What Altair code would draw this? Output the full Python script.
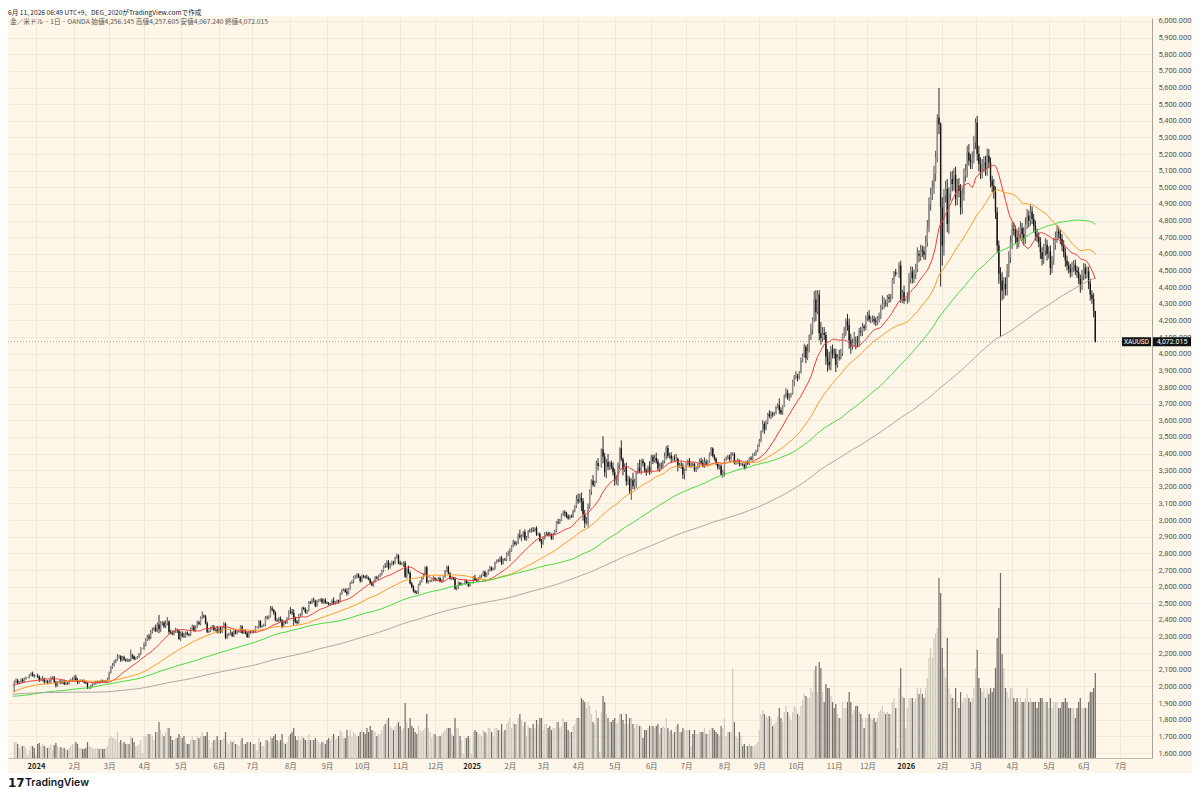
import pandas as pd
import altair as alt

# ---------------- data (XAUUSD daily) ----------------
# pre-history closes (only used to warm up the moving averages)
p_2303 = [1836,1836,1856,1847,1813,1815,1831,1868,1913,1903,1918,1919,1989,1979,1941,1970,1994,1978,1956,1973,1964,1980,1969]
p_2304 = [1984,2020,2021,2008,2007,1990,2003,2015,2040,2004,1995,2005,1995,2004,1983,1989,1998,1989,1989,1990]
p_2305 = [1983,2017,2039,2050,2017,2022,2034,2030,2015,2011,2017,1989,1982,1958,1978,1971,1975,1957,1941,1946,1943,1959,1963]
p_2306 = [1978,1948,1962,1963,1940,1965,1961,1957,1943,1943,1958,1957,1951,1936,1932,1913,1921,1923,1914,1907,1908,1919]
p_2307 = [1921,1925,1915,1911,1925,1925,1932,1957,1961,1955,1955,1979,1976,1969,1962,1954,1965,1972,1946,1959,1965]
p_2308 = [1944,1934,1934,1943,1936,1925,1915,1912,1914,1907,1902,1892,1889,1889,1895,1897,1916,1917,1914,1920,1937,1942,1940]
p_2309 = [1940,1938,1926,1917,1919,1919,1922,1913,1908,1910,1924,1934,1931,1930,1920,1925,1916,1900,1875,1864,1849]
p_2310 = [1828,1822,1821,1820,1833,1861,1861,1874,1868,1932,1920,1923,1947,1974,1981,1973,1970,1980,1985,2006,1996,1983]
p_2311 = [1982,1986,1992,1978,1969,1950,1958,1940,1946,1963,1959,1981,1980,1978,1998,1990,1992,2002,2013,2041,2044,2036]
p_2312a = [2072,2030,2019,2025,2028,2005,1982,1979]

# visible candles: close, upper wick, lower wick, volume (k ticks)
c_2312 = [2027,2036,2019,2027,2040,2031,2045,2053,2053,2067,2077,2065,2063]
u_2312 = [8,12,10,6,8,10,8,6,2,6,8,12,8]
l_2312 = [12,6,8,6,5,8,6,5,2,5,6,6,10]
v_2312 = [16,16,14,10,12,12,12,10,3,8,12,12,10]

c_2401 = [2063,2059,2041,2043,2045,2028,2030,2024,2029,2049,2055,2028,2006,2023,2029,2021,2029,2014,2020,2018,2032,2037,2039]
u_2401 = [2,14,8,10,18,8,10,10,12,12,6,8,6,8,8,10,8,12,8,6,8,10,16]
l_2401 = [2,8,14,8,12,12,8,10,8,8,8,10,12,6,6,8,6,6,6,8,6,6,8]
v_2401 = [3,14,15,12,14,12,11,10,11,14,8,13,15,12,10,11,10,10,9,8,10,12,14]

c_2402 = [2054,2039,2025,2035,2035,2034,2024,2020,1992,1992,2004,2013,2017,2024,2025,2024,2035,2031,2029,2034,2044]
u_2402 = [12,16,10,6,8,6,8,8,6,6,8,6,8,8,8,8,6,6,6,6,8]
l_2402 = [6,6,12,8,6,8,6,6,8,8,6,6,6,6,6,6,6,6,6,6,6]
v_2402 = [14,16,14,10,10,9,9,10,16,12,11,10,9,10,10,9,10,9,9,10,12]

c_2403 = [2083,2115,2128,2148,2160,2179,2182,2158,2175,2162,2155,2160,2157,2186,2181,2165,2171,2178,2194,2230,2230]
u_2403 = [6,8,12,10,6,16,8,6,8,10,6,8,6,36,10,6,6,6,8,6,2]
l_2403 = [4,6,8,8,8,6,12,10,6,8,8,6,10,6,16,8,6,6,6,6,2]
v_2403 = [20,22,20,20,18,26,16,18,15,16,14,14,14,22,20,16,12,12,14,18,5]

c_2404 = [2250,2280,2300,2290,2329,2339,2352,2333,2372,2344,2383,2383,2361,2379,2391,2327,2322,2316,2332,2337,2335,2286]
u_2404 = [16,10,10,16,10,14,8,20,12,58,10,10,10,18,26,6,14,14,8,16,10,8]
l_2404 = [10,10,6,14,6,10,8,6,8,24,16,16,10,10,12,12,8,8,10,10,14,6]
v_2404 = [22,22,24,24,24,22,18,26,26,36,28,24,22,26,30,30,22,18,18,20,20,24]

c_2405 = [2320,2303,2301,2323,2314,2309,2346,2360,2336,2358,2386,2376,2415,2425,2420,2379,2329,2334,2350,2361,2338,2343,2327]
u_2405 = [10,12,20,8,8,6,8,12,10,8,10,8,6,26,8,10,10,8,8,8,8,8,20]
l_2405 = [12,8,8,8,8,8,6,8,6,6,6,8,8,10,10,6,8,8,6,8,6,8,8]
v_2405 = [22,20,22,16,14,14,18,22,18,18,22,20,22,26,22,22,26,18,10,16,18,18,22]

c_2406 = [2350,2327,2355,2376,2294,2310,2316,2324,2304,2333,2319,2329,2329,2360,2322,2334,2320,2298,2327,2326]
u_2406 = [8,8,6,12,8,6,8,18,6,6,8,6,10,8,8,8,8,8,6,10]
l_2406 = [8,8,6,6,10,8,8,6,6,8,6,6,6,6,6,6,6,6,6,8]
v_2406 = [18,18,18,20,26,16,14,18,16,18,14,14,12,18,20,14,14,16,16,16]

c_2407 = [2332,2330,2356,2356,2392,2359,2364,2371,2415,2411,2422,2469,2459,2445,2400,2396,2409,2397,2364,2387,2384,2410,2447]
u_2407 = [8,8,8,6,6,6,6,6,8,10,6,14,14,8,6,8,8,12,8,10,8,6,10]
l_2407 = [8,10,6,6,8,6,6,6,8,8,8,6,8,14,8,8,10,8,14,8,8,8,8]
v_2407 = [14,14,14,8,20,16,12,12,18,18,16,22,20,22,24,18,16,18,24,16,14,16,22]

c_2408 = [2446,2443,2410,2390,2382,2427,2431,2472,2465,2447,2456,2507,2503,2514,2512,2484,2512,2518,2524,2504,2521,2503]
u_2408 = [30,20,20,10,10,8,10,6,8,10,6,6,8,14,20,10,8,8,6,8,6,10]
l_2408 = [10,14,46,10,10,6,8,6,6,8,12,6,8,8,6,8,6,6,8,6,8,6]
v_2408 = [24,26,30,22,18,22,18,22,20,18,18,24,18,18,18,20,18,16,14,16,16,14]

c_2409 = [2500,2493,2495,2516,2497,2505,2516,2512,2558,2578,2582,2569,2559,2587,2622,2628,2657,2657,2672,2658,2634]
u_2409 = [8,8,8,8,20,8,6,6,6,8,8,8,20,6,6,10,8,14,8,8,6]
l_2409 = [6,6,6,6,6,6,6,14,6,6,6,6,14,6,6,6,8,10,8,6,10]
v_2409 = [18,20,18,22,24,18,20,22,28,26,20,20,28,22,28,22,26,24,22,22,26]

c_2410 = [2663,2659,2656,2653,2644,2622,2608,2631,2657,2649,2662,2674,2693,2721,2720,2748,2715,2736,2747,2743,2774,2788,2743]
u_2410 = [10,8,8,16,8,6,10,6,6,8,6,6,8,6,20,10,12,6,10,8,6,12,6]
l_2410 = [8,8,8,8,6,8,6,8,6,6,8,6,6,6,8,6,14,8,10,14,8,6,8]
v_2410 = [28,26,24,30,26,32,28,28,26,22,24,24,28,32,34,38,40,32,30,28,32,34,36]

c_2411 = [2736,2736,2743,2659,2706,2685,2619,2598,2573,2565,2563,2612,2631,2651,2670,2716,2625,2633,2636,2638,2650]
u_2411 = [12,10,8,12,6,20,6,10,10,8,12,6,6,6,8,6,8,6,6,6,16]
l_2411 = [6,8,16,6,10,10,6,8,8,6,8,6,6,6,6,6,6,6,6,8,6]
v_2411 = [32,28,30,55,36,30,40,32,30,26,24,32,28,26,28,30,44,30,26,20,24]

c_2412 = [2640,2643,2650,2632,2633,2661,2694,2718,2680,2648,2653,2646,2587,2594,2622,2612,2618,2618,2634,2621,2606,2624]
u_2412 = [8,8,8,10,12,6,6,8,10,6,8,6,12,8,8,6,6,2,6,8,8,6]
l_2412 = [8,6,6,6,8,6,8,6,6,6,8,6,6,10,8,6,6,2,6,6,8,6]
v_2412 = [24,22,22,22,24,26,28,30,30,30,24,22,40,30,30,22,18,4,20,20,22,20]

c_2501 = [2624,2658,2640,2636,2648,2662,2670,2690,2663,2677,2697,2715,2703,2708,2745,2755,2754,2771,2740,2763,2760,2795,2798]
u_2501 = [2,6,14,10,8,8,6,6,6,6,8,10,6,6,6,8,12,10,14,6,10,10,18]
l_2501 = [2,6,6,8,8,6,8,6,8,6,6,6,10,6,6,6,8,6,10,6,6,8,10]
v_2501 = [4,26,28,26,24,24,22,28,26,24,30,30,26,22,30,30,28,28,34,26,28,34,36]

c_2502 = [2815,2843,2866,2856,2861,2908,2898,2904,2928,2883,2898,2935,2933,2939,2936,2952,2915,2916,2875,2858]
u_2502 = [16,6,16,10,10,12,34,10,6,16,6,6,14,16,18,4,10,8,10,12]
l_2502 = [44,6,6,10,8,6,10,26,8,6,8,8,8,8,8,6,10,8,6,26]
v_2502 = [40,30,36,34,34,40,44,38,32,36,22,32,30,30,34,30,38,34,40,40]

c_2503 = [2893,2918,2920,2911,2910,2889,2916,2934,2988,2984,3001,3035,3048,3044,3023,3011,3020,3019,3057,3085,3124]
u_2503 = [6,10,10,10,18,10,8,8,6,20,6,4,8,12,6,12,10,14,6,4,26]
l_2503 = [6,10,10,10,8,8,8,6,6,10,6,6,10,24,12,8,8,6,6,10,12]
v_2503 = [28,34,34,30,32,28,30,30,36,36,30,32,40,36,36,28,26,26,32,34,40]

c_2504 = [3113,3134,3114,3037,2982,2982,3083,3175,3237,3211,3229,3343,3327,3327,3425,3381,3288,3349,3319,3344,3317,3288]
u_2504 = [36,24,32,18,24,38,16,10,8,34,8,14,30,2,6,79,22,18,48,8,14,30]
l_2504 = [16,10,60,40,30,10,26,16,24,10,12,6,28,2,12,40,28,36,20,18,12,20]
v_2504 = [40,40,60,58,56,50,56,52,44,36,34,48,40,6,46,62,56,44,40,36,36,38]

c_2505 = [3239,3240,3334,3431,3366,3305,3325,3233,3248,3177,3239,3205,3230,3290,3314,3295,3357,3342,3300,3289,3318,3289]
u_2505 = [20,30,14,6,48,10,16,20,20,14,12,46,20,6,30,50,8,12,6,10,10,36]
l_2505 = [32,26,34,30,12,36,16,26,22,20,56,20,22,36,14,14,20,20,12,22,6,18]
v_2505 = [40,34,36,44,44,38,34,44,34,40,40,34,30,34,34,32,32,20,28,28,30,32]

c_2506 = [3381,3353,3373,3352,3310,3326,3322,3355,3386,3433,3385,3388,3369,3369,3368,3368,3323,3333,3328,3274,3303]
u_2506 = [12,12,20,32,16,16,22,6,20,12,18,16,20,14,24,30,8,10,20,14,6]
l_2506 = [8,16,8,12,12,22,14,8,14,22,12,16,26,16,14,12,30,8,20,26,30]
v_2506 = [32,32,30,32,34,24,30,32,30,40,30,26,28,24,26,32,34,26,26,30,28]

c_2507 = [3338,3357,3326,3337,3336,3301,3313,3325,3355,3344,3324,3347,3339,3350,3397,3431,3387,3368,3337,3314,3326,3274,3289]
u_2507 = [8,8,16,8,8,8,8,16,14,20,20,30,18,10,8,8,6,8,8,8,8,10,12]
l_2507 = [8,10,10,12,18,10,12,8,10,10,8,10,14,8,6,12,10,10,8,10,10,6,20]
v_2507 = [28,28,28,12,24,28,24,24,26,26,26,30,24,24,28,30,30,28,26,24,22,32,30]

c_2508 = [3363,3373,3380,3368,3397,3398,3342,3348,3356,3335,3336,3332,3315,3347,3339,3372,3366,3393,3397,3417,3448]
u_2508 = [6,10,10,14,12,10,8,8,16,8,10,8,8,10,12,6,12,8,10,6,6]
l_2508 = [26,10,8,14,8,10,8,10,8,12,8,8,12,8,8,8,8,8,8,10,8]
v_2508 = [40,22,26,26,26,90,36,22,20,26,22,12,14,12,12,14,12,12,12,14,16]

c_2509 = [3477,3533,3578,3545,3586,3636,3626,3641,3634,3643,3679,3690,3660,3644,3685,3747,3764,3737,3749,3760,3833,3858]
u_2509 = [12,6,22,14,14,8,24,14,10,8,8,12,42,18,6,8,28,20,12,6,10,14]
l_2509 = [8,10,6,26,6,10,14,20,16,8,8,8,22,12,12,6,14,14,22,14,6,28]
v_2509 = [28,44,48,44,42,40,42,40,32,34,36,42,50,40,36,46,52,46,42,38,46,52]

c_2510 = [3865,3857,3887,3960,3985,4040,3975,4017,4110,4142,4208,4326,4250,4356,4125,4095,4125,4112,3982,3952,3930,4025,4002]
u_2510 = [30,14,8,16,16,20,12,42,6,38,10,50,56,25,26,66,36,35,20,46,60,20,30]
l_2510 = [12,24,12,6,12,8,32,12,10,28,26,18,54,12,45,40,24,30,48,60,26,30,30]
v_2510 = [50,44,42,52,58,64,62,60,60,70,66,88,92,66,96,90,66,56,74,70,70,62,56]

c_2511 = [4000,3932,3980,3977,4001,4115,4128,4194,4171,4080,4045,4067,4078,4077,4065,4135,4131,4164,4155,4218]
u_2511 = [30,30,16,44,28,6,34,18,45,40,40,24,54,25,30,20,26,22,12,12]
l_2511 = [30,42,16,18,12,14,22,20,32,50,45,20,20,50,24,24,26,24,20,14]
v_2511 = [50,54,44,40,40,56,50,50,56,66,56,44,48,52,52,46,44,40,30,40]

c_2512 = [4232,4205,4205,4208,4198,4190,4208,4228,4280,4300,4305,4302,4340,4330,4340,4445,4490,4480,4480,4530,4330,4370,4320]
u_2512 = [20,30,20,22,20,20,18,20,14,50,34,20,14,20,18,10,8,20,2,20,30,14,40]
l_2512 = [20,14,22,16,22,24,18,20,20,16,30,20,20,24,20,10,26,16,2,24,24,26,20]
v_2512 = [40,44,40,38,40,36,40,46,48,52,46,44,46,44,44,56,60,50,10,70,90,62,60]

c_2601 = [4330,4330,4450,4495,4455,4475,4510,4600,4590,4625,4615,4595,4670,4760,4900,4960,5000,5080,5180,5420,5380,4880]
u_2601 = [2,40,36,30,28,32,30,40,22,30,26,30,40,44,40,38,42,50,40,20,178,10]
l_2601 = [2,30,20,28,32,30,26,20,40,30,34,30,30,26,30,40,36,40,44,30,60,476]
v_2601 = [30,50,60,60,60,56,60,70,64,70,64,60,70,80,100,110,100,120,125,130,180,165]

c_2602 = [4650,4950,4990,4780,4960,5050,5020,5075,4930,5010,4980,4880,4960,5070,5100,5210,5160,5150,5180,5270]
u_2602 = [60,40,50,60,40,44,50,40,50,40,46,40,40,44,40,40,50,40,36,40]
l_2602 = [120,60,40,50,60,40,44,40,40,36,40,44,40,40,36,40,30,40,40,36]
v_2602 = [110,90,80,120,70,64,60,60,70,56,50,66,56,60,60,64,60,56,60,70]

c_2603 = [5390,5200,5140,5090,5130,5150,5110,5190,5150,5040,5010,4975,4850,4650,4480,4440,4380,4420,4390,4500,4580,4670]
u_2603 = [25,40,50,40,40,36,40,44,40,30,30,40,30,30,30,40,50,40,40,40,36,40]
l_2603 = [40,40,44,40,36,40,40,40,36,40,40,44,40,40,60,340,60,50,40,40,40,36]
v_2603 = [90,108,80,70,66,70,60,70,64,70,66,70,90,120,150,185,104,90,70,66,60,70]

c_2604 = [4750,4740,4700,4670,4720,4755,4720,4690,4780,4830,4800,4855,4810,4770,4720,4700,4670,4610,4570,4620,4655,4600]
u_2604 = [40,40,30,40,40,40,30,40,40,40,30,40,30,30,30,30,30,30,30,40,40,30]
l_2604 = [40,30,40,40,30,30,40,40,30,30,40,30,30,40,40,30,30,40,40,30,30,40]
v_2604 = [70,60,56,60,56,60,56,56,60,70,56,60,56,56,56,50,56,60,60,56,56,56]

c_2605 = [4615,4515,4560,4655,4700,4735,4720,4690,4650,4610,4560,4530,4510,4490,4520,4535,4500,4490,4450,4410,4470]
u_2605 = [30,36,28,40,34,40,30,26,30,32,28,30,24,30,32,26,30,28,30,26,34]
l_2605 = [28,42,30,26,30,32,28,30,34,30,38,30,28,32,26,30,28,34,30,44,28]
v_2605 = [50,60,50,56,56,56,50,50,56,56,60,56,50,50,50,50,40,50,56,60,50]

c_2606 = [4515,4480,4495,4420,4355,4330,4256.145,4072.015]
u_2606 = [30,26,30,28,30,26,34,1.46]
l_2606 = [28,30,26,32,36,30,38,4.775]
v_2606 = [50,50,50,56,66,66,70,85]

PRE = [("2023-03-01", "2023-03-31", p_2303), ("2023-04-01", "2023-04-30", p_2304),
       ("2023-05-01", "2023-05-31", p_2305), ("2023-06-01", "2023-06-30", p_2306),
       ("2023-07-01", "2023-07-31", p_2307), ("2023-08-01", "2023-08-31", p_2308),
       ("2023-09-01", "2023-09-30", p_2309), ("2023-10-01", "2023-10-31", p_2310),
       ("2023-11-01", "2023-11-30", p_2311), ("2023-12-01", "2023-12-12", p_2312a)]

VIS = [("2023-12-13", "2023-12-31", c_2312, u_2312, l_2312, v_2312),
       ("2024-01-01", "2024-01-31", c_2401, u_2401, l_2401, v_2401),
       ("2024-02-01", "2024-02-29", c_2402, u_2402, l_2402, v_2402),
       ("2024-03-01", "2024-03-31", c_2403, u_2403, l_2403, v_2403),
       ("2024-04-01", "2024-04-30", c_2404, u_2404, l_2404, v_2404),
       ("2024-05-01", "2024-05-31", c_2405, u_2405, l_2405, v_2405),
       ("2024-06-01", "2024-06-30", c_2406, u_2406, l_2406, v_2406),
       ("2024-07-01", "2024-07-31", c_2407, u_2407, l_2407, v_2407),
       ("2024-08-01", "2024-08-31", c_2408, u_2408, l_2408, v_2408),
       ("2024-09-01", "2024-09-30", c_2409, u_2409, l_2409, v_2409),
       ("2024-10-01", "2024-10-31", c_2410, u_2410, l_2410, v_2410),
       ("2024-11-01", "2024-11-30", c_2411, u_2411, l_2411, v_2411),
       ("2024-12-01", "2024-12-31", c_2412, u_2412, l_2412, v_2412),
       ("2025-01-01", "2025-01-31", c_2501, u_2501, l_2501, v_2501),
       ("2025-02-01", "2025-02-28", c_2502, u_2502, l_2502, v_2502),
       ("2025-03-01", "2025-03-31", c_2503, u_2503, l_2503, v_2503),
       ("2025-04-01", "2025-04-30", c_2504, u_2504, l_2504, v_2504),
       ("2025-05-01", "2025-05-31", c_2505, u_2505, l_2505, v_2505),
       ("2025-06-01", "2025-06-30", c_2506, u_2506, l_2506, v_2506),
       ("2025-07-01", "2025-07-31", c_2507, u_2507, l_2507, v_2507),
       ("2025-08-01", "2025-08-31", c_2508, u_2508, l_2508, v_2508),
       ("2025-09-01", "2025-09-30", c_2509, u_2509, l_2509, v_2509),
       ("2025-10-01", "2025-10-31", c_2510, u_2510, l_2510, v_2510),
       ("2025-11-01", "2025-11-30", c_2511, u_2511, l_2511, v_2511),
       ("2025-12-01", "2025-12-31", c_2512, u_2512, l_2512, v_2512),
       ("2026-01-01", "2026-01-31", c_2601, u_2601, l_2601, v_2601),
       ("2026-02-01", "2026-02-28", c_2602, u_2602, l_2602, v_2602),
       ("2026-03-01", "2026-03-31", c_2603, u_2603, l_2603, v_2603),
       ("2026-04-01", "2026-04-30", c_2604, u_2604, l_2604, v_2604),
       ("2026-05-01", "2026-05-31", c_2605, u_2605, l_2605, v_2605),
       ("2026-06-01", "2026-06-30", c_2606, u_2606, l_2606, v_2606)]

HEADER = "6月 11, 2026 06:49 UTC+9、DEG_2020がTradingView.comで作成"
SYMBOL = "XAUUSD"
MA_NAMES = ["ma20", "ma50", "ma100", "ma200"]
MA_COLORS = ["#ef3b36", "#ff9a1f", "#3fdc3a", "#aaa59d"]

# ---------------- build table ----------------
rows = []
for a, b, cl in PRE:
    for d, c in zip(pd.bdate_range(a, b), cl):
        rows.append({"date": d, "close": float(c)})
npre = len(rows)
for a, b, cl, up, lo, vo in VIS:
    for d, c, u, l, v in zip(pd.bdate_range(a, b), cl, up, lo, vo):
        rows.append({"date": d, "close": float(c), "uw": u, "lw": l, "vol": v})
df = pd.DataFrame(rows)
df["i"] = range(-npre, len(df) - npre)
df["open"] = df["close"].shift(1)
df["high"] = df[["open", "close"]].max(axis=1) + df["uw"]
df["low"] = df[["open", "close"]].min(axis=1) - df["lw"]

# month ticks (trading-day index axis, like TradingView)
vis = df[df["i"] >= 0]
cal = list(vis["date"])
cal += list(pd.bdate_range(cal[-1] + pd.Timedelta(days=1), "2026-07-31"))
tick_i, tick_t = [], []
prev = None
for k, d in enumerate(cal):
    ym = (d.year, d.month)
    if prev is not None and ym != prev:
        tick_i.append(k)
        tick_t.append(str(d.year) if d.month == 1 else f"{d.month}月")
    prev = ym
label_expr = ""
for k, t in zip(tick_i, tick_t):
    label_expr += f"datum.value == {k} ? '{t}' : "
label_expr += "''"
years = [k for k, t in zip(tick_i, tick_t) if t.isdigit()]
year_test = "indexof([" + ",".join(str(k) for k in years) + "], datum.value) >= 0"

data = df.drop(columns=["date", "uw", "lw"])
last = df.iloc[-1]
info = (f"金／米ドル · 1日 · OANDA  始値{last['open']:,.3f}  高値{last['high']:,.3f}  "
        f"安値{last['low']:,.3f}  終値{last['close']:,.3f}")
df_last = pd.DataFrame({"i": [int(last["i"])], "close": [float(last["close"])],
                        "lbl": [f"{last['close']:,.3f}"], "info": [info]})
one = pd.DataFrame({"k": [0]})

# ---------------- style ----------------
BG = "#fdf6e9"
GRID = "#f1e8d8"
FJP = "Noto Sans CJK JP"
FNUM = "Roboto"
W, H = 1144, 740

XS = alt.Scale(domain=[-0.8, 681.1], nice=False, zero=False)
XAX = alt.Axis(values=tick_i, labelExpr=label_expr, grid=True, gridColor=GRID, ticks=False,
               domain=True, domainColor="#bfb7aa", labelFontSize=7.5, labelFont=FJP,
               labelColor={"condition": {"test": year_test, "value": "#1e1e1e"}, "value": "#666666"},
               labelFontWeight={"condition": {"test": year_test, "value": "bold"}, "value": "normal"},
               labelPadding=4, labelOverlap=False, labelFlush=False, title=None)
YS = alt.Scale(domain=[1570, 6018], nice=False, zero=False)
YAX = alt.Axis(orient="right", values=list(range(1600, 6001, 100)), format=",.3f", grid=True,
               gridColor=GRID, ticks=False, domain=True, domainColor="#a5a29c",
               labelFontSize=7.5, labelFont=FNUM, labelColor="#555555", labelPadding=6,
               labelOverlap=False, title=None)


def X():
    return alt.X("i:Q", scale=XS, axis=XAX, title=None)


def Y(f):
    return alt.Y(f, scale=YS, axis=YAX, title=None)


up_cond = "datum.close >= datum.open"
body_col = alt.condition(up_cond, alt.value("#8e8e8e"), alt.value("#141414"))
wick_col = alt.condition(up_cond, alt.value("#3c3c3c"), alt.value("#141414"))
vol_col = alt.condition(up_cond, alt.value("#d0c9bf"), alt.value("#6f6b66"))

base = alt.Chart(data).transform_filter("datum.i >= 0")

volume = base.mark_bar(size=1.2, clip=True).encode(
    x=X(), y=alt.Y("vol:Q", scale=alt.Scale(domain=[0, 740], nice=False), axis=None),
    color=vol_col)

wick = base.mark_rule(strokeWidth=0.9, clip=True).encode(
    x=X(), y=Y("low:Q"), y2="high:Q", color=wick_col)
body = base.mark_bar(size=1.4, clip=True).encode(
    x=X(), y=Y("open:Q"), y2="close:Q", color=body_col)

ma = (alt.Chart(data)
      .transform_window(ma20="mean(close)", frame=[-19, 0], sort=[alt.SortField("i")])
      .transform_window(ma50="mean(close)", frame=[-49, 0], sort=[alt.SortField("i")])
      .transform_window(ma100="mean(close)", frame=[-99, 0], sort=[alt.SortField("i")])
      .transform_window(ma200="mean(close)", frame=[-199, 0], sort=[alt.SortField("i")])
      .transform_filter("datum.i >= -1")
      .transform_fold(MA_NAMES, as_=["ma", "val"])
      .mark_line(strokeWidth=1, clip=True)
      .encode(x=X(), y=Y("val:Q"),
              color=alt.Color("ma:N", scale=alt.Scale(domain=MA_NAMES, range=MA_COLORS), legend=None)))

lastc = alt.Chart(df_last)
last_line = lastc.mark_rule(strokeDash=[1, 2], color="#8a8a8a", strokeWidth=0.8).encode(
    y=Y("close:Q"), x=alt.value(0), x2=alt.value(1114))
box_sym = lastc.mark_rect(color="#131313", height=9).encode(
    y=Y("close:Q"), x=alt.value(1114), x2=alt.value(1143))
box_val = lastc.mark_rect(color="#131313", height=9).encode(
    y=Y("close:Q"), x=alt.value(1145), x2=alt.value(1183))
txt_sym = lastc.mark_text(color="white", fontSize=6.6, font=FNUM, align="center", baseline="middle").encode(
    y=Y("close:Q"), x=alt.value(1128.5), text=alt.value(SYMBOL))
txt_val = lastc.mark_text(color="white", fontSize=7, font=FNUM, align="center", baseline="middle").encode(
    y=Y("close:Q"), x=alt.value(1164), text="lbl:N")
txt_info = lastc.mark_text(color="#5a5a5a", fontSize=6.7, font=FJP, align="left", baseline="middle").encode(
    x=alt.value(2), y=alt.value(4), text="info:N")

oc = alt.Chart(one)
strip_top = oc.mark_rect(color="white").encode(
    x=alt.value(-10), x2=alt.value(1200), y=alt.value(-10), y2=alt.value(-2))
strip_bot = oc.mark_rect(color="white").encode(
    x=alt.value(-10), x2=alt.value(1200), y=alt.value(755), y2=alt.value(800))
header = oc.mark_text(color="#222222", fontSize=6.6, font=FJP, align="left", baseline="middle").encode(
    x=alt.value(0), y=alt.value(-5), text=alt.value(HEADER))
logo_icon = oc.mark_text(color="#131722", fontSize=12, font="DejaVu Sans", fontWeight="bold",
                         align="left", baseline="middle").encode(
    x=alt.value(0), y=alt.value(765), text=alt.value("17"))
logo_txt = oc.mark_text(color="#131722", fontSize=10.5, font="Inter", fontWeight=600,
                        align="left", baseline="middle").encode(
    x=alt.value(17), y=alt.value(765), text=alt.value("TradingView"))

price = alt.layer(wick, body, ma, last_line, box_sym, box_val, txt_sym, txt_val, txt_info,
                  strip_top, strip_bot, header, logo_icon, logo_txt)

chart = (alt.layer(volume, price)
         .resolve_scale(y="independent")
         .properties(width=W, height=H, background=BG,
                     padding={"left": 0, "top": 10, "right": 40, "bottom": 32},
                     autosize=alt.AutoSizeParams(type="none"))
         .configure_view(stroke=None))

chart.save("out.html", embed_options={"renderer": "svg", "actions": False})
